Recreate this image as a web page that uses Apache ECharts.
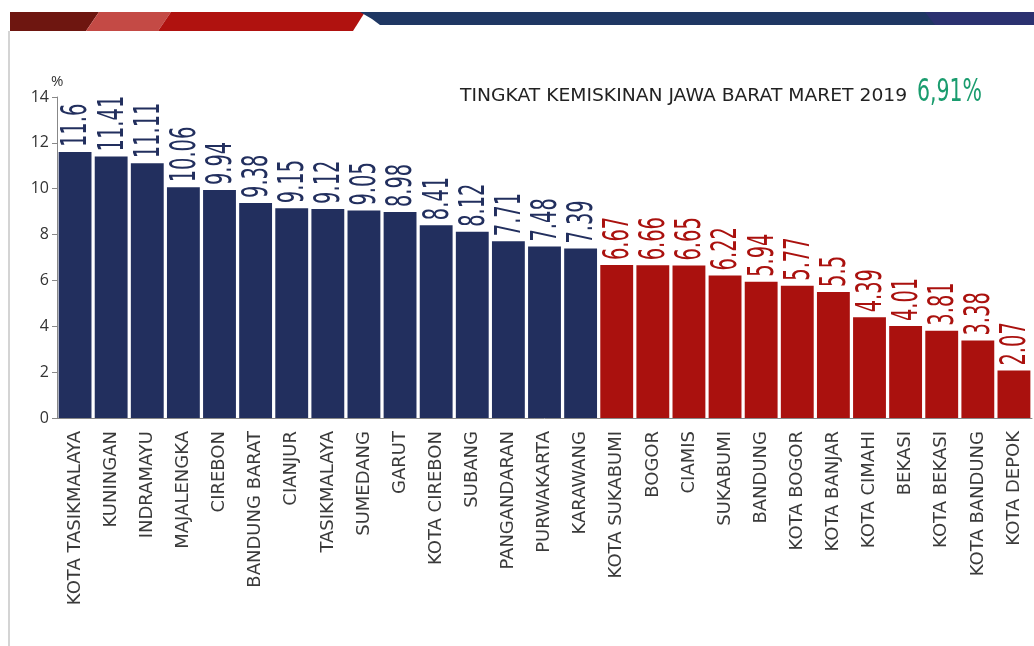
<!DOCTYPE html>
<html>
<head>
<meta charset="utf-8">
<script src="https://cdn.jsdelivr.net/npm/echarts@6/dist/echarts.min.js"></script>
<style>
  html, body { margin: 0; padding: 0; background: #fff; }
  #chart { width: 1034px; height: 646px; }
</style>
</head>
<body>
<div id="chart"></div>
<script>
// kabupaten / kota, sorted by poverty rate
const regions = [
  'KOTA TASIKMALAYA', 'KUNINGAN', 'INDRAMAYU', 'MAJALENGKA', 'CIREBON',
  'BANDUNG BARAT', 'CIANJUR', 'TASIKMALAYA', 'SUMEDANG', 'GARUT',
  'KOTA CIREBON', 'SUBANG', 'PANGANDARAN', 'PURWAKARTA', 'KARAWANG',
  'KOTA SUKABUMI', 'BOGOR', 'CIAMIS', 'SUKABUMI', 'BANDUNG',
  'KOTA BOGOR', 'KOTA BANJAR', 'KOTA CIMAHI', 'BEKASI', 'KOTA BEKASI',
  'KOTA BANDUNG', 'KOTA DEPOK'
];
const rates = [
  11.6, 11.41, 11.11, 10.06, 9.94, 9.38, 9.15, 9.12, 9.05, 8.98,
  8.41, 8.12, 7.71, 7.48, 7.39, 6.67, 6.66, 6.65, 6.22, 5.94,
  5.77, 5.5, 4.39, 4.01, 3.81, 3.38, 2.07
];
const provinceRate = '6,91%';
const titleText = 'TINGKAT KEMISKINAN JAWA BARAT MARET 2019';

const NAVY = '#222f5e';
const RED = '#aa110e';
// above provincial rate -> navy, below -> red
const barColor = v => (v > 6.91 ? NAVY : RED);

const chart = echarts.init(document.getElementById('chart'));

// value labels: squeezed text drawn at the top of each bar (no condensed font available)
function renderLabel(params, api) {
  const v = api.value(1);
  const pt = api.coord([api.value(0), v]);
  return {
    type: 'text',
    x: pt[0] + 2,
    y: pt[1] - 5,
    rotation: Math.PI / 2,
    scaleX: 0.54,
    style: {
      text: String(v),
      font: '36px "DejaVu Sans"',
      fill: barColor(v),
      align: 'left',
      verticalAlign: 'middle'
    }
  };
}

const option = {
  animation: false,
  grid: { left: 57, right: 2, top: 97, bottom: 228 },
  graphic: [
    // header banner
    { type: 'polygon', shape: { points: [[10, 12], [99, 12], [86, 31], [10, 31]] }, style: { fill: '#6e1610' } },
    { type: 'polygon', shape: { points: [[99, 12], [171, 12], [158, 31], [86, 31]] }, style: { fill: '#c44a45' } },
    { type: 'polygon', shape: { points: [[171, 12], [365, 12], [353, 31], [158, 31]] }, style: { fill: '#b0120f' } },
    { type: 'polygon', shape: { points: [[360, 12], [930, 12], [940, 25], [380, 25], [372, 19]] }, style: { fill: '#1f3763' } },
    { type: 'polygon', shape: { points: [[925, 12], [1034, 12], [1034, 25], [935, 25]] }, style: { fill: '#2b3170' } },
    // left frame line
    { type: 'rect', shape: { x: 8, y: 31, width: 2, height: 615 }, style: { fill: '#d4d4d4' } },
    // headline
    {
      type: 'text', x: 460, y: 87, scaleX: 1.07,
      style: { text: titleText, font: '17.5px "DejaVu Sans", sans-serif', fill: '#222' }
    },
    {
      type: 'text', x: 917, y: 77, scaleX: 0.64,
      style: { text: provinceRate, font: '32px "DejaVu Sans", sans-serif', fill: '#1a9c6e' }
    }
  ],
  xAxis: {
    type: 'category',
    data: regions,
    axisLine: { lineStyle: { color: '#888', width: 1 } },
    axisTick: { show: false },
    axisLabel: {
      rotate: 90, interval: 0, margin: 13,
      color: '#3a3a3a', fontSize: 18, fontFamily: 'DejaVu Sans'
    }
  },
  yAxis: {
    type: 'value',
    min: 0, max: 14, interval: 2,
    name: '%',
    nameGap: 6,
    nameTextStyle: { color: '#333', fontSize: 15, fontFamily: 'Open Sans', align: 'left', padding: [0, 0, 0, -6] },
    splitLine: { show: false },
    axisLine: { show: true, lineStyle: { color: '#888', width: 1 } },
    axisTick: { show: true, length: 5, lineStyle: { color: '#888' } },
    axisLabel: { color: '#333', fontSize: 16, fontFamily: 'Open Sans', margin: 8 }
  },
  series: [
    {
      type: 'bar',
      data: rates.map(v => ({ value: v, itemStyle: { color: barColor(v) } })),
      barCategoryGap: '9%'
    },
    {
      type: 'custom',
      data: rates.map((v, i) => [i, v]),
      renderItem: renderLabel,
      silent: true
    }
  ]
};

chart.setOption(option);
</script>
</body>
</html>
